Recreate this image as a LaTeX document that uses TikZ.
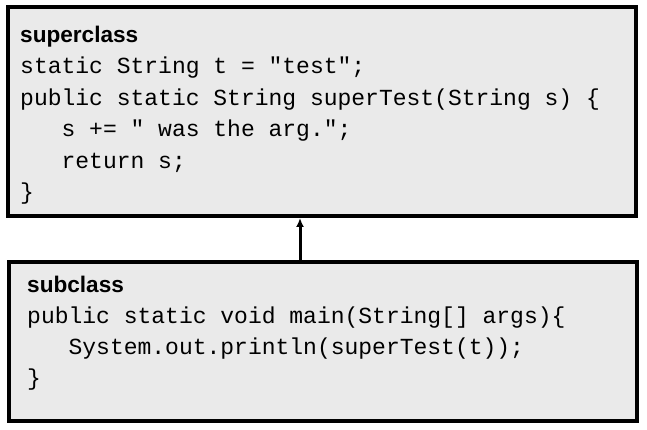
\documentclass[tikz,border=0pt]{standalone}
\usepackage{fontspec}
\setmainfont{Liberation Sans}
\setmonofont{Liberation Mono}
\usetikzlibrary{arrows.meta}
\definecolor{boxfill}{RGB}{234,234,234}
\begin{document}
\begin{tikzpicture}[x=1pt,y=-1pt,
  classbox/.style={draw=black,line width=4pt,fill=boxfill,rectangle,inner sep=0pt},
  head/.style={anchor=base west,inner sep=0pt,font=\fontsize{22.6}{22.6}\selectfont\bfseries},
  code/.style={anchor=base west,inner sep=0pt,font=\fontsize{23}{23}\selectfont\ttfamily},
  inherit/.style={line width=3pt,-{Latex[length=9pt,width=8pt]}}]
\useasboundingbox (0,0) rectangle (647,430);
\node[classbox,minimum width=628pt,minimum height=209pt] (super) at (322,111.5) {};
\node[classbox,minimum width=628pt,minimum height=159pt] (sub) at (323,341.5) {};
\node[head] (h1) at (20,43) {superclass};
\node[code] (c1) at (20,74) {static String t = "test";};
\node[code] (c2) at (20,106) {public static String superTest(String s) \{};
\node[code] (c3) at (20,137) {\ \ \ s += " was the arg.";};
\node[code] (c4) at (20,168.5) {\ \ \ return s;};
\node[code] (c5) at (20,200) {\}};
\node[head] (h2) at (27,292) {subclass};
\node[code] (d1) at (27,323) {public static void main(String[] args)\{};
\node[code] (d2) at (27,354) {\ \ \ System.out.println(superTest(t));};
\node[code] (d3) at (27,385) {\}};
\coordinate (ax) at (300,0);
\draw[inherit] (sub.north -| ax) -- (super.south -| ax);
\end{tikzpicture}
\end{document}
